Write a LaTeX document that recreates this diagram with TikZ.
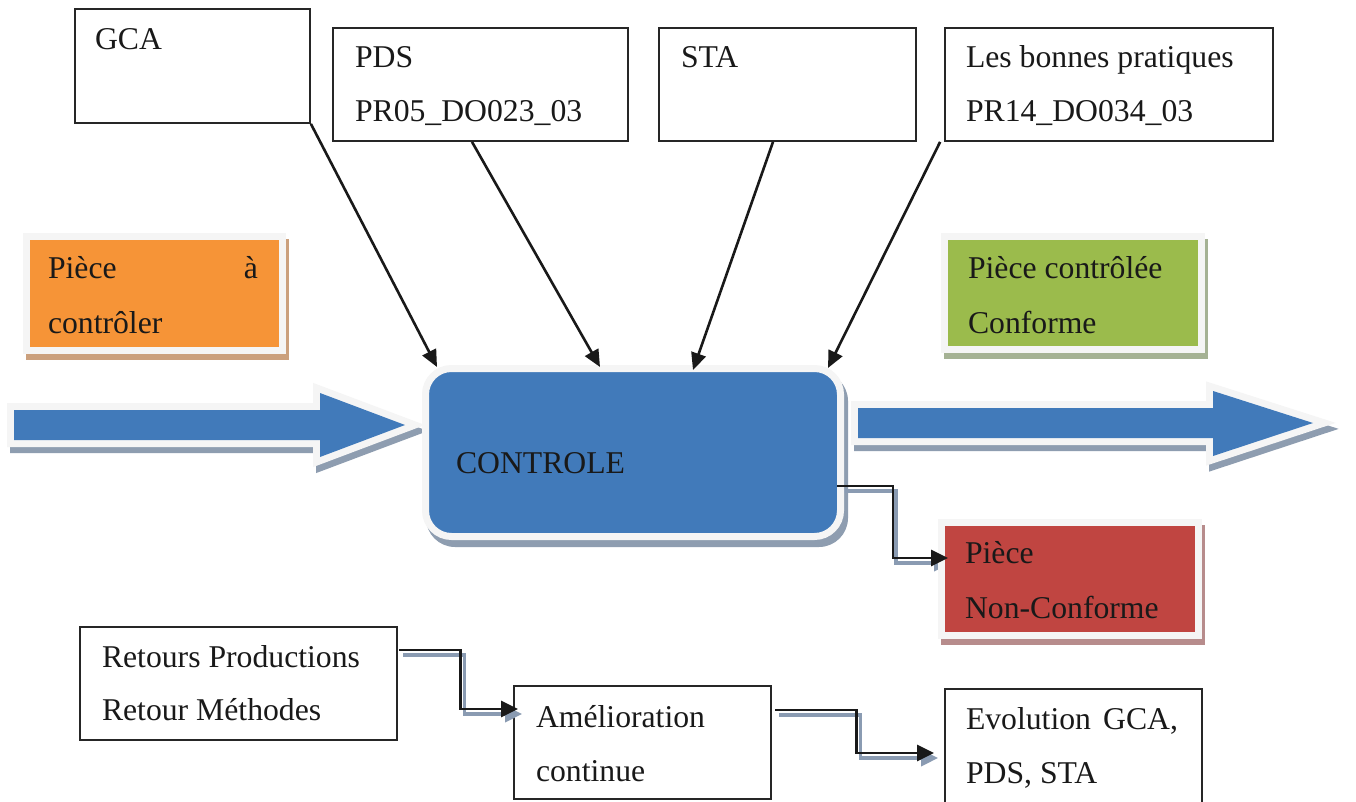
\documentclass[tikz,border=0pt]{standalone}
\usepackage{fontspec}
\setmainfont{Liberation Serif}
\usetikzlibrary{arrows.meta,calc}
\pgfdeclarelayer{bg}
\pgfdeclarelayer{shadowlayer}
\pgfsetlayers{bg,shadowlayer,main}
\definecolor{cblue}{RGB}{65,122,186}
\definecolor{corange}{RGB}{246,148,55}
\definecolor{cgreen}{RGB}{155,187,76}
\definecolor{cred}{RGB}{192,69,65}
\definecolor{bwhite}{RGB}{245,245,245}
\definecolor{bshadow}{RGB}{142,157,176}
\definecolor{oshadow}{RGB}{203,160,125}
\definecolor{gshadow}{RGB}{165,178,148}
\definecolor{rshadow}{RGB}{183,140,140}
\definecolor{lshadow}{RGB}{138,155,178}
\definecolor{txtcol}{RGB}{25,25,25}
\newcommand{\fs}{\fontsize{31.7pt}{38pt}\selectfont}
\begin{document}
\begin{tikzpicture}[x=1pt,y=-1pt,
  plainbox/.style={draw=black!85, line width=1.8pt, fill=white, inner sep=0pt},
  colbox/.style={draw=bwhite, line width=7pt, line join=miter, inner sep=0pt},
  lbl/.style={anchor=base west, inner sep=0pt, outer sep=0pt, text=txtcol, font=\fs},
  conn/.style={draw=black!90, line width=2.6pt, -{Triangle[length=17pt,width=15pt]}},
  elb/.style={draw=black!90, line width=2.8pt, -{Triangle[length=17pt,width=16pt]}},
  elbsh/.style={draw=lshadow, line width=3.5pt, -{Triangle[length=17pt,width=16pt]}},
  blockarrow/.style={draw=bwhite, fill=cblue, line width=14pt, line join=miter},
  blockshadow/.style={draw=bshadow, fill=bshadow, line width=14pt, line join=miter}]

\begin{pgfonlayer}{bg}
  \fill[white] (0,0) rectangle (1356,802);
\end{pgfonlayer}
\useasboundingbox (0,0) rectangle (1356,802);

% block arrows
\begin{pgfonlayer}{shadowlayer}
  \begin{scope}[shift={(3,6)}]
    \draw[blockshadow] (14,410) -- (320,410) -- (320,393) -- (405,425) -- (320,457) -- (320,440) -- (14,440) -- cycle;
    \draw[blockshadow] (858,408) -- (1213,408) -- (1213,391) -- (1313,423) -- (1213,456) -- (1213,438) -- (858,438) -- cycle;
  \end{scope}
\end{pgfonlayer}
\draw[draw=bwhite, line width=14pt, line join=miter] (14,410) -- (320,410) -- (320,393) -- (405,425) -- (320,457) -- (320,440) -- (14,440) -- cycle;
\fill[cblue] (14,410) -- (320,410) -- (320,393) -- (405,425) -- (320,457) -- (320,440) -- (14,440) -- cycle;
\draw[draw=bwhite, line width=14pt, line join=miter] (858,408) -- (1213,408) -- (1213,391) -- (1313,423) -- (1213,456) -- (1213,438) -- (858,438) -- cycle;
\fill[cblue] (858,408) -- (1213,408) -- (1213,391) -- (1313,423) -- (1213,456) -- (1213,438) -- (858,438) -- cycle;

% top boxes
\node[plainbox, minimum width=235pt, minimum height=114pt] (gca) at (192.5,66) {};
\node[plainbox, minimum width=295pt, minimum height=113pt] (pds) at (480.5,84.5) {};
\node[plainbox, minimum width=257pt, minimum height=113pt] (sta) at (787.5,84.5) {};
\node[plainbox, minimum width=328pt, minimum height=113pt] (bp) at (1109,84.5) {};
\node[lbl] (tgca) at (95,50) {GCA};
\node[lbl] (tpds1) at (355,68) {PDS};
\node[lbl] (tpds2) at (355,122) {PR05\_DO023\_03};
\node[lbl] (tsta) at (681,68) {STA};
\node[lbl] (tbp1) at (966,68) {Les bonnes pratiques};
\node[lbl] (tbp2) at (966,122) {PR14\_DO034\_03};

% coloured boxes
\node[colbox, fill=corange, minimum width=256pt, minimum height=114pt] (inp) at (154,293.5) {};
\node[colbox, fill=cgreen, minimum width=257pt, minimum height=113pt] (ok) at (1073,293) {};
\node[colbox, fill=cred, minimum width=257pt, minimum height=113pt] (nok) at (1070,579) {};
\node[colbox, fill=cblue, rounded corners=26pt, minimum width=415pt, minimum height=168pt] (ctrl) at (633,452.5) {};
\begin{pgfonlayer}{shadowlayer}
  \fill[oshadow] ($(inp.north west)+(3,6)$) rectangle ($(inp.south east)+(3,6)$);
  \fill[gshadow] ($(ok.north west)+(3,6)$) rectangle ($(ok.south east)+(3,6)$);
  \fill[rshadow] ($(nok.north west)+(3,6)$) rectangle ($(nok.south east)+(3,6)$);
  \fill[bshadow, rounded corners=29pt] ($(ctrl.north west)+(4,7)$) rectangle ($(ctrl.south east)+(4,7)$);
\end{pgfonlayer}
\node[lbl] (tinp1) at (48,278) {\makebox[210pt][l]{Pièce\hfill à}};
\node[lbl] (tinp2) at (48,333) {contrôler};
\node[lbl] (tok1) at (968,278) {Pièce contrôlée};
\node[lbl] (tok2) at (968,333) {Conforme};
\node[lbl] (tnok1) at (965,563) {Pièce};
\node[lbl] (tnok2) at (965,618) {Non-Conforme};
\node[lbl] (tctrl) at (456,473) {CONTROLE};

% bottom boxes
\node[plainbox, minimum width=317pt, minimum height=113pt] (ret) at (238.5,683.5) {};
\node[plainbox, minimum width=257pt, minimum height=113pt] (amel) at (642.5,742.5) {};
\node[plainbox, minimum width=257pt, minimum height=121pt] (evol) at (1073.5,749.5) {};
\node[lbl] (tret1) at (102,667) {Retours Productions};
\node[lbl] (tret2) at (102,720) {Retour Méthodes};
\node[lbl] (tamel1) at (536,727) {Amélioration};
\node[lbl] (tamel2) at (536,781) {continue};
\node[lbl] (tevol1) at (966,729) {\makebox[212pt][l]{Evolution\hfill GCA,}};
\node[lbl] (tevol2) at (966,783) {PDS, STA};

% straight connectors
\draw[conn] (gca.south east) -- ($(ctrl.north west)+(15,2)$);
\draw[conn] ($(pds.south)+(-8.5,0)$) -- ($(ctrl.north west)+(178,2)$);
\draw[conn] ($(sta.south)+(-14.5,0)$) -- ($(ctrl.north west)+(271,5)$);
\draw[conn] ($(bp.south west)+(-4,0)$) -- ($(ctrl.north west)+(406,3)$);

% elbow connectors
\coordinate (c1s) at ($(ctrl.east)+(-7,33.5)$);
\coordinate (c1e) at ($(nok.west)+(10,-21)$);
\coordinate (c2s) at ($(ret.east)+(1.5,-33.5)$);
\coordinate (c2e) at ($(amel.west)+(5,-33.5)$);
\coordinate (c3s) at ($(amel.east)+(3.5,-32.5)$);
\coordinate (c3e) at ($(evol.west)+(-10,3.5)$);
\begin{pgfonlayer}{shadowlayer}
  \draw[elbsh] ($(c1s)+(3,5)$) -- ++(56,0) |- ($(c1e)+(3,5)$);
\end{pgfonlayer}
\draw[elbsh] ($(c2s)+(4,5)$) -- ++(61,0) |- ($(c2e)+(4,5)$);
\draw[elbsh] ($(c3s)+(4,5)$) -- ++(81,0) |- ($(c3e)+(4,5)$);
\draw[elb] (c1s) -- ++(56,0) |- (c1e);
\draw[elb] (c2s) -- ++(61,0) |- (c2e);
\draw[elb] (c3s) -- ++(81,0) |- (c3e);
\end{tikzpicture}
\end{document}
